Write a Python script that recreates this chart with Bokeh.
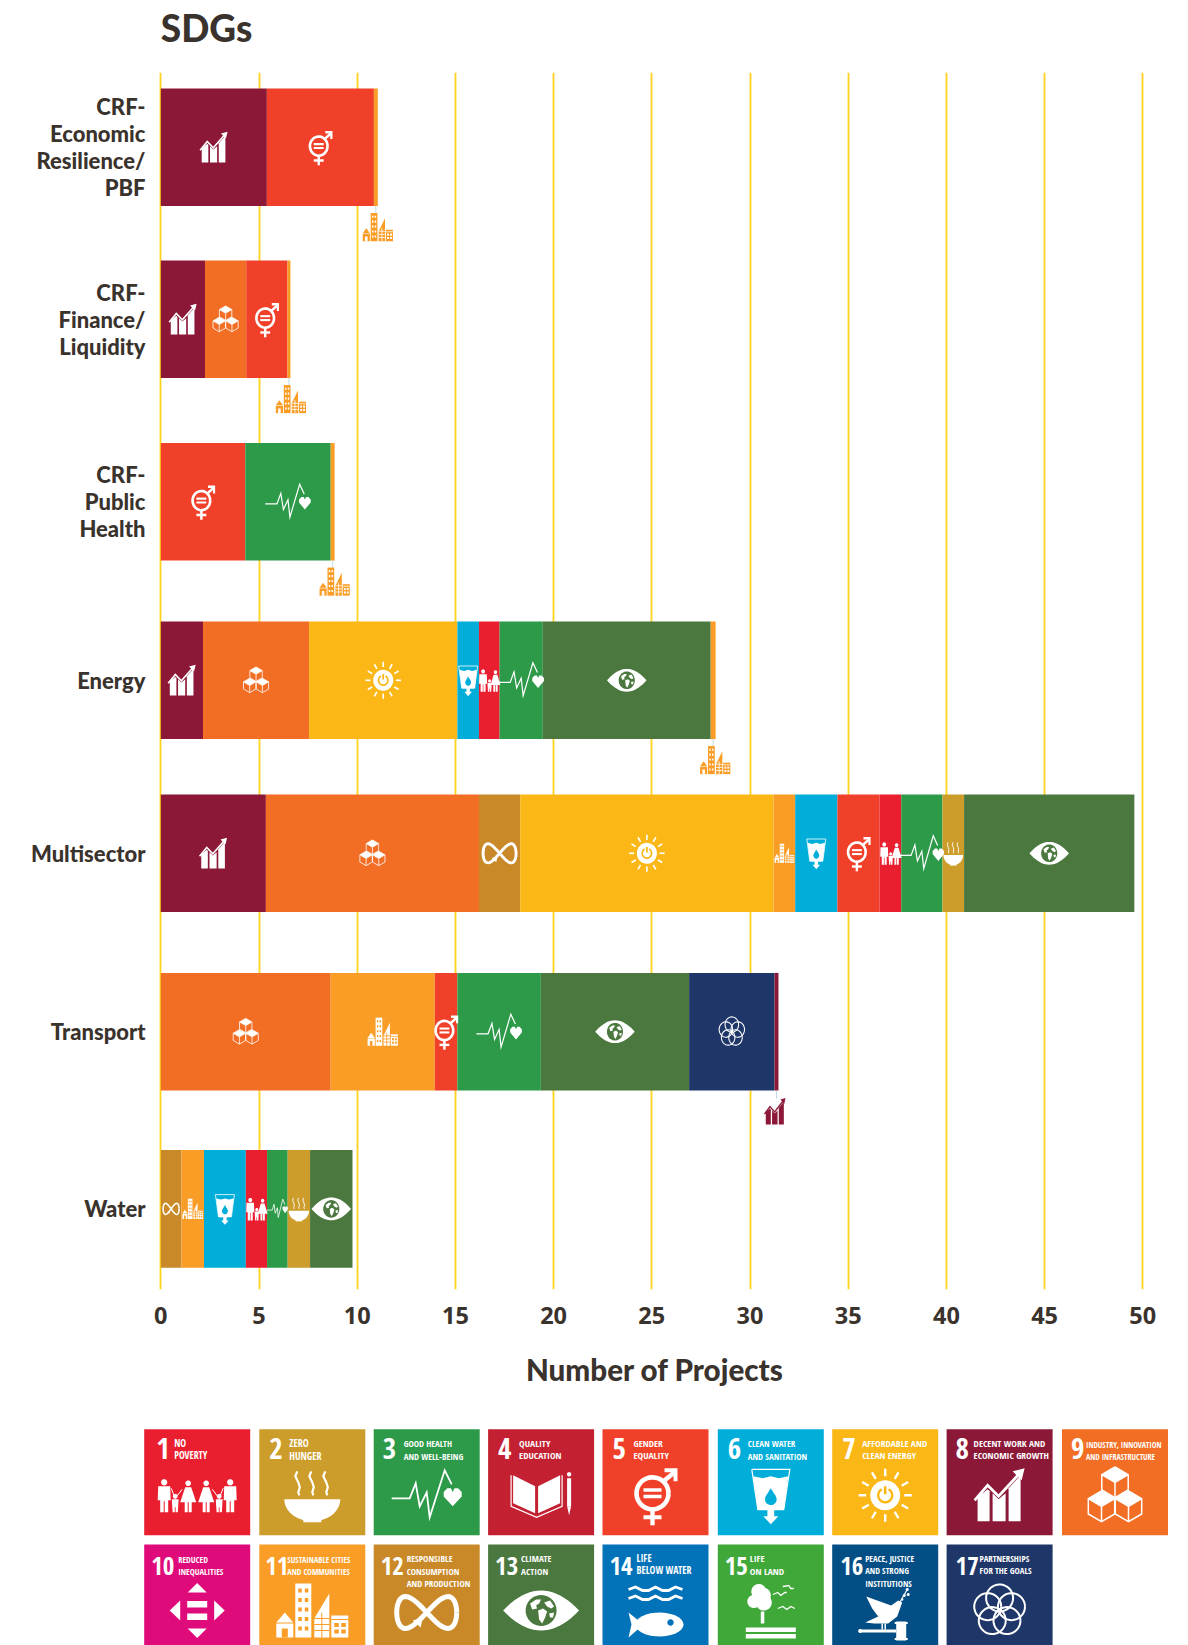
import numpy as np
from bokeh.plotting import figure
from bokeh.embed import file_html
from bokeh.resources import INLINE
from bokeh.models import Range1d, FixedTicker
from bokeh.core.properties import value

# ------------------------------------------------------------ data
sectors = ["CRF-\nEconomic\nResilience/\nPBF", "CRF-\nFinance/\nLiquidity", "CRF-\nPublic\nHealth",
           "Energy", "Multisector", "Transport", "Water"]
s1_goals = [8, 5, 11];                          s1_vals = [5.4, 5.45, 0.2]
s2_goals = [8, 9, 5, 11];                       s2_vals = [2.25, 2.1, 2.1, 0.15]
s3_goals = [5, 3, 11];                          s3_vals = [4.3, 4.35, 0.2]
s4_goals = [8, 9, 7, 6, 1, 3, 13, 11];          s4_vals = [2.15, 5.4, 7.55, 1.1, 1.05, 2.2, 8.55, 0.25]
s5_goals = [8, 9, 12, 7, 11, 6, 5, 1, 3, 2, 13]; s5_vals = [5.35, 10.85, 2.1, 12.9, 1.1, 2.15, 2.15, 1.1, 2.1, 1.1, 8.67]
s6_goals = [9, 11, 5, 3, 13, 17, 8];            s6_vals = [8.65, 5.3, 1.15, 4.25, 7.55, 4.35, 0.2]
s7_goals = [12, 11, 6, 1, 3, 2, 13];            s7_vals = [1.05, 1.15, 2.13, 1.08, 1.05, 1.14, 2.16]
x_ticks = [0, 5, 10, 15, 20, 25, 30, 35, 40, 45, 50]

goal_numbers = list(range(1, 18))
goal_labels = [["NO", "POVERTY"], ["ZERO", "HUNGER"], ["GOOD HEALTH", "AND WELL-BEING"], ["QUALITY", "EDUCATION"],
               ["GENDER", "EQUALITY"], ["CLEAN WATER", "AND SANITATION"], ["AFFORDABLE AND", "CLEAN ENERGY"],
               ["DECENT WORK AND", "ECONOMIC GROWTH"], ["INDUSTRY, INNOVATION", "AND INFRASTRUCTURE"],
               ["REDUCED", "INEQUALITIES"], ["SUSTAINABLE CITIES", "AND COMMUNITIES"],
               ["RESPONSIBLE", "CONSUMPTION", "AND PRODUCTION"], ["CLIMATE", "ACTION"], ["LIFE", "BELOW WATER"],
               ["LIFE", "ON LAND"], ["PEACE, JUSTICE", "AND STRONG", "INSTITUTIONS"], ["PARTNERSHIPS", "FOR THE GOALS"]]
goal_colors = {1: "#E91F30", 2: "#CC9D2B", 3: "#2D9A49", 4: "#C32032", 5: "#F0402A", 6: "#01AED9", 7: "#FBB716",
               8: "#8C1837", 9: "#F36E25", 10: "#DF0B7A", 11: "#FA9D26", 12: "#C98928", 13: "#4B783E",
               14: "#0273B8", 15: "#3FA838", 16: "#024E85", 17: "#1F3768"}

# ------------------------------------------------------------ layout (in page pixels)
INK = "#3A322C"
PX = 19.64           # pixels per project
X0 = 160.3
row_mid = [146.8, 318.8, 501.3, 679.8, 852.8, 1031.2, 1208.4]
BAR_H = 117.6
tile_x = [143.7, 258.8, 373.2, 487.6, 602.0, 717.3, 831.7, 946.1, 1061.5,
          143.7, 258.8, 373.2, 487.6, 602.0, 717.3, 831.7, 946.1]
tile_y = [1428.8] * 9 + [1544.0] * 8
TILE = 106
num_dx = [12, 10, 9, 10, 10, 10, 10, 9, 9, 7, 6, 7, 7, 7, 7, 8, 9]
lab_dx = [30, 30, 30, 31, 31, 30, 30, 27, 24, 34, 28, 33, 33, 34, 32, 33, 33]
lab_size = [9.8, 10, 8.9, 9.5, 9.5, 8.9, 9.5, 9.5, 8, 8.5, 8.2, 9.0, 9.2, 9.8, 9.6, 8.6, 8.8]
icon_dy = [66, 66, 66, 66, 66, 66, 66, 66, 66, 66, 66, 68, 66, 67, 67, 70, 66]
TILE_FONT = "Open Sans Condensed"
BASE_SHIFT = 0.36    # svg text sits this many em under its alphabetic baseline

# ------------------------------------------------------------ icon templates (pixels around the icon centre, y down)
def circ(cx, cy, r, n=28, a0=0.0, a1=2 * np.pi):
    t = np.linspace(a0, a1, n)
    return list(cx + r * np.cos(t)), list(cy + r * np.sin(t))

def poly(*pts):
    return ("f", [p[0] for p in pts], [p[1] for p in pts])

def bgpoly(*pts):
    return ("b", [p[0] for p in pts], [p[1] for p in pts])

def rect(x0, y0, x1, y1, kind="f"):
    return (kind, [x0, x1, x1, x0], [y0, y0, y1, y1])

def disc(cx, cy, r, kind="f"):
    a, b = circ(cx, cy, r)
    return (kind, a, b)

def stroke(pts, w, kind="l"):
    return (kind, [p[0] for p in pts], [p[1] for p in pts], w)

def ring(cx, cy, r, w):
    a, b = circ(cx, cy, r, 40)
    return ("l", a, b, w)

def man(x):
    return [disc(x, -13, 3.1), poly((x - 6, -9), (x + 6, -9), (x + 6.5, 5), (x + 4, 5), (x + 4, 17), (x + .5, 17), (x + .5, 6),
                                    (x - .5, 6), (x - .5, 17), (x - 4, 17), (x - 4, 5), (x - 6.5, 5))]

def woman(x):
    return [disc(x, -12, 2.8), poly((x - 3, -8), (x + 3, -8), (x + 8, 7), (x + 3.5, 7), (x + 3.5, 17), (x + .5, 17), (x + .5, 7),
                                    (x - .5, 7), (x - .5, 17), (x - 3.5, 17), (x - 3.5, 7), (x - 8, 7))]

def child(x):
    return [disc(x, 1, 2.4), poly((x - 3.4, 4), (x + 3.4, 4), (x + 3, 11), (x + 2.6, 17), (x + .4, 17), (x + .4, 12),
                                  (x - .4, 12), (x - .4, 17), (x - 2.6, 17), (x - 3, 11))]

def icon_family():
    out = []
    for part in (man(-33), child(-22), woman(-9), woman(9), child(22), man(33)):
        out += part
    out += [stroke([(-26, -7), (-22, 3)], 1), stroke([(-22, 3), (-15, -6)], 1),
            stroke([(15, -6), (22, 3)], 1), stroke([(22, 3), (26, -7)], 1)]
    return out

def icon_family2():
    out = []
    for part in (man(-10), child(0.5), woman(10)):
        out += part
    return out

def icon_bowl():
    t = np.linspace(0, np.pi, 24)
    ax = list(28 * np.cos(t)); ay = list(4 + 22 * np.sin(t))
    out = [("f", ax, ay), rect(-9, 22, 9, 27)]
    for dx in (-14, 0, 14):
        out.append(stroke([(dx - 1, -24), (dx - 3, -19), (dx, -13), (dx + 1.5, -8), (dx, -3), (dx + 1, 0)], 2.2))
    return out

def heart(cx, cy, r):
    return poly((cx, cy + r), (cx - r, cy - .1 * r), (cx - r, cy - .6 * r), (cx - .6 * r, cy - r), (cx - .2 * r, cy - r), (cx, cy - .6 * r),
                (cx + .2 * r, cy - r), (cx + .6 * r, cy - r), (cx + r, cy - .6 * r), (cx + r, cy - .1 * r))

def icon_pulse():
    return [stroke([(-35, 3), (-17, 3), (-11, -12), (-7, 11), (0, -3), (3, 22), (18, -25), (25, -11)], 1.8), heart(26, 2, 9)]

def icon_book():
    return [poly((-28, -20), (-6, -9), (-6, 18), (-28, 8)), poly((-3, -9), (19, -20), (19, 8), (-3, 18)),
            stroke([(-30, -20), (-30, 11), (-4.5, 22), (21, 11), (21, -20)], 1.2),
            rect(26, -17, 30, 11), poly((26, 11), (30, 11), (28, 20)), disc(28, -21, 2.2)]

def icon_gender():
    rx, ry = -3, -2
    return [ring(rx, ry, 16, 4.6), rect(rx - 9, ry - 5, rx + 9, ry - 1.5), rect(rx - 9, ry + 1.5, rx + 9, ry + 5),
            rect(rx - 2.2, ry + 17, rx + 2.2, ry + 32), rect(rx - 9, ry + 22, rx + 9, ry + 26),
            stroke([(rx + 11, ry - 12), (19, -23)], 4.4), poly((9, -27), (22, -27), (22, -14), (18, -14), (18, -23), (9, -23))]

def icon_cup():
    return [stroke([(-19, -26), (19, -26), (13, 14), (-13, 14), (-19, -26)], 1.2),
            poly((-17.5, -19), (-8, -17), (0, -19), (8, -17), (17.5, -19), (13, 14), (-13, 14)),
            rect(-13, 13, 13, 15), disc(0, 4, 5.8, "b"), bgpoly((-5, 1), (5, 1), (0, -7)),
            rect(-3.4, 14, 3.4, 22), poly((-7.5, 21), (7.5, 21), (0, 29))]

def icon_sun():
    out = [disc(0, 0, 15)]
    for k in range(12):
        a = k * np.pi / 6
        out.append(stroke([(19 * np.cos(a), 19 * np.sin(a)), (26.5 * np.cos(a), 26.5 * np.sin(a))], 2.4))
    a, b = circ(0, 0, 7, 24, -np.pi / 2 + .5, 1.5 * np.pi - .5)
    out.append(("m", a, b, 2.4))
    out.append(stroke([(0, -9), (0, -1)], 2.6, "m"))
    return out

def icon_growth():
    return [poly((-22, 2), (-12, -6), (-10, -4), (-10, 26), (-22, 26)),
            poly((-7, -2), (-1, 4), (6, -2), (6, 26), (-7, 26)),
            poly((9, -7), (21, -20), (21, 26), (9, 26)),
            stroke([(-25, 5), (-12, -10), (-1, 1), (21, -23)], 2.8),
            poly((25, -27), (13, -24), (22, -15))]

def cube(cx, cy, s=13.2):
    h = s * 0.58
    top = poly((cx, cy - 2 * h), (cx + s, cy - h), (cx, cy), (cx - s, cy - h))
    outline = stroke([(cx, cy - 2 * h), (cx + s, cy - h), (cx + s, cy + h), (cx, cy + 2 * h), (cx - s, cy + h), (cx - s, cy - h), (cx, cy - 2 * h)], 1.5)
    return [top, outline, stroke([(cx - s, cy - h), (cx, cy), (cx + s, cy - h)], 1.5), stroke([(cx, cy), (cx, cy + 2 * h)], 1.5)]

def icon_cubes():
    return cube(0, -13) + cube(-13.5, 11) + cube(13.5, 11)

def tri(*p):
    return poly(*p)

def icon_arrows():
    return [tri((-9.5, -18), (9.5, -18), (0, -27.5)), tri((-9.5, 18), (9.5, 18), (0, 27.5)),
            tri((-17, -10), (-17, 10), (-27.5, 0)), tri((17, -10), (17, 10), (27.5, 0)),
            rect(-10, -9.5, 10, -3), rect(-10, 3, 10, 9.5)]

def icon_city():
    out = [poly((-36, 12), (-27.5, 2), (-19, 12)), rect(-36, 13, -19, 27), rect(-30.5, 18, -24.5, 27, "b"), rect(-17, -27, -1, 27)]
    for yy in (-22, -12.5, -3, 6.5, 16):
        out += [rect(-14, yy, -10.5, yy + 4, "b"), rect(-7.5, yy, -4, yy + 4, "b")]
    out.append(poly((2, 8), (17, -17), (17, 27), (2, 27)))
    for yy in (8, 14, 20):
        out.append(stroke([(2, yy), (17, yy)], 1, "m"))
    out.append(stroke([(9.5, 2), (9.5, 27)], 1, "m"))
    out.append(rect(19, 5, 36, 27))
    out.append(stroke([(19, 9), (36, 9)], 1, "m"))
    for yy in (12.5, 19):
        out += [rect(22, yy, 26.5, yy + 4, "b"), rect(29, yy, 33.5, yy + 4, "b")]
    return out

def icon_inf():
    t = np.linspace(0, 2 * np.pi, 60)
    return [("l", list(30 * np.cos(t)), list(16 * np.sin(2 * t)), 5),
            poly((-14, 8), (-4, 5), (-6, 15))]

def icon_eye():
    t = np.linspace(-1, 1, 21)
    ex = list(38 * t) + list(38 * t[::-1])
    ey = list(-20 * (1 - t ** 2)) + list(20 * (1 - t[::-1] ** 2))
    return [("f", ex, ey), disc(0, 0, 15.5, "b"),
            poly((-11, -7), (-5, -11), (0, -11), (-2, -7), (-5, -5), (-4, -2), (-9, -1)),
            poly((-3, 0), (2, -2), (6, 1), (4, 7), (1, 13), (-2, 9)),
            poly((3, -8), (9, -10), (13, -4), (10, -2), (6, -4)),
            poly((8, 3), (13, 2), (12, 7), (9, 7))]

def wave(y):
    return stroke([(-27, y), (-20, y - 2.5), (-13, y + 1), (-7, y + 1), (0, y - 2.5), (7, y + 1), (13, y + 1), (20, y - 2.5), (27, y)], 2.8)

def icon_fish():
    t = np.linspace(0, 2 * np.pi, 30)
    return [wave(-22), wave(-13),
            ("f", list(4 + 24 * np.cos(t)), list(13 + 12 * np.sin(t))),
            poly((-27, 1), (-12, 13), (-27, 26), (-24, 13)),
            disc(15, 11, 3.2, "b")]

def icon_tree():
    return [disc(-12, -20, 7.5), disc(-17, -10, 6.5), disc(-7, -9, 8), disc(-8, -16, 8), rect(-10, 0, -6.5, 12),
            rect(-25, 16, 25, 20.5), rect(-25, 22.5, 25, 27),
            stroke([(2, -17), (7, -19), (10, -16), (14, -19), (16, -19)], 1.3),
            stroke([(12, -25), (18, -26), (20, -23), (23, -23)], 1.3),
            stroke([(7, -3), (12, -5), (16, -2), (20, -5), (24, -3)], 1.3)]

def icon_dove():
    return [poly((-19, -18), (-8, -14), (6, -9), (13, -14), (17, -12), (12, 2), (3, 9), (-11, 9), (-20, 8), (-7, 2), (-13, -6)),
            stroke([(14, -11), (22, -25)], 1.2), disc(19, -19, 1.5), disc(23, -20, 1.5), disc(17, -15, 1.2), disc(22, -25, 1.5),
            stroke([(-3, 9), (-3, 15)], 1.5), stroke([(0, 9), (0, 15)], 1.5),
            rect(-25, 15, 11, 18), disc(-25, 16.5, 2), rect(11, 7, 21, 26), rect(9.5, 7.5, 22.5, 9.5), rect(9.5, 23.5, 22.5, 25.5)]

def icon_rings():
    out = []
    for k in range(5):
        a = -np.pi / 2 + k * 2 * np.pi / 5
        out.append(ring(12.5 * np.cos(a), 12.5 * np.sin(a), 13.5, 2))
    return out

ICONS = {1: icon_family(), 2: icon_bowl(), 3: icon_pulse(), 4: icon_book(), 5: icon_gender(), 6: icon_cup(), 7: icon_sun(),
         8: icon_growth(), 9: icon_cubes(), 10: icon_arrows(), 11: icon_city(), 12: icon_inf(), 13: icon_eye(), 14: icon_fish(),
         15: icon_tree(), 16: icon_dove(), 17: icon_rings()}
BAR_ICONS = dict(ICONS); BAR_ICONS[1] = icon_family2()
ICON_W = {1: 30, 2: 56, 3: 62, 6: 38, 11: 72, 12: 70, 13: 76}
BAR_S = {1: (.62, .68), 2: (.42, .46), 3: (.65, .7), 5: (.55, .6), 6: (.5, .55), 7: (.67, .7), 8: (.55, .58), 9: (.47, .47),
         11: (.42, .52), 12: (.55, .6), 13: (.52, .57), 17: (.5, .57)}


def draw_icon(p, tmpl, cx, cy, fg, bg, sx=1.0, sy=1.0, unit=1.0):
    # sx, sy scale the template in pixels; unit = pixels per x data unit
    lw = (sx + sy) / 2
    for it in tmpl:
        kind = it[0]
        xs = [cx + v * sx / unit for v in it[1]]
        ys = [cy + v * sy for v in it[2]]
        if kind in "fb":
            p.patch(xs, ys, fill_color=fg if kind == "f" else bg, line_color=None)
        else:
            p.line(xs, ys, line_color=fg if kind == "l" else bg, line_width=max(it[3] * lw, 0.8),
                   line_join="miter", line_cap="butt")


# ------------------------------------------------------------ heading
head = figure(width=1188, height=72, output_backend="svg", toolbar_location=None,
              x_range=Range1d(0, 1188), y_range=Range1d(72, 0), min_border=0)
head.axis.visible = False
head.grid.visible = False
head.outline_line_color = None
head.text([X0], [40.7 - BASE_SHIFT * 37], text=["SDGs"], text_font=value("Lato Black"), text_font_style="bold",
          text_font_size="37px", text_color=INK, text_baseline="alphabetic", text_align="left")

# ------------------------------------------------------------ main figure
main = figure(width=1188, height=1343, output_backend="svg", toolbar_location=None,
              x_range=Range1d((158 - X0) / PX, (1151 - X0) / PX), y_range=Range1d(1289, 72),
              min_border_left=158, min_border_right=37, min_border_top=0, min_border_bottom=126)
main.outline_line_color = None
main.background_fill_color = "white"

main.ygrid.visible = False
main.xgrid.ticker = FixedTicker(ticks=x_ticks)
main.xgrid.grid_line_color = "#FFD21E"
main.xgrid.grid_line_width = 1.8

xa = main.xaxis[0]
xa.ticker = FixedTicker(ticks=x_ticks)
xa.axis_line_color = None
xa.major_tick_line_color = None
xa.minor_tick_line_color = None
xa.major_label_standoff = 11
xa.major_label_text_font = "Open Sans"
xa.major_label_text_font_style = "bold"
xa.major_label_text_font_size = "23.5px"
xa.major_label_text_color = INK
xa.axis_label = "Number of Projects"
xa.axis_label_text_font = "Lato Black"
xa.axis_label_text_font_style = "bold"
xa.axis_label_text_font_size = "29.6px"
xa.axis_label_text_color = INK
xa.axis_label_standoff = 25

ya = main.yaxis[0]
ya.ticker = FixedTicker(ticks=row_mid)
ya.major_label_overrides = {m: s for m, s in zip(row_mid, sectors)}
ya.axis_line_color = None
ya.major_tick_line_color = None
ya.minor_tick_line_color = None
ya.major_label_standoff = 7
ya.major_label_text_font = "Lato Black"
ya.major_label_text_font_style = "bold"
ya.major_label_text_font_size = "22px"
ya.major_label_text_color = INK
ya.major_label_text_line_height = 1.0

rows = [(s1_goals, s1_vals), (s2_goals, s2_vals), (s3_goals, s3_vals), (s4_goals, s4_vals),
        (s5_goals, s5_vals), (s6_goals, s6_vals), (s7_goals, s7_vals)]

for mid, (goals, vals) in zip(row_mid, rows):
    left = 0.0
    lefts, rights, cols = [], [], []
    for g, v in zip(goals, vals):
        lefts.append(left); left += v; rights.append(left); cols.append(goal_colors[g])
    main.hbar(y=[mid] * len(vals), height=BAR_H, left=lefts, right=rights, fill_color=cols, line_color=None)
    for g, l, r in zip(goals, lefts, rights):
        seg_px = (r - l) * PX
        cx = (l + r) / 2
        if seg_px < 8:  # too thin for its icon: called out under the bar
            main.segment([cx], [mid + BAR_H / 2], [cx], [mid + BAR_H / 2 + 8], line_color="#BFDCEB", line_width=1)
            sx, sy = (.42, .5) if g == 8 else BAR_S.get(g, (.55, .55))
            draw_icon(main, ICONS[g], cx - 1.5 / PX if g == 8 else cx + 2 / PX, mid + BAR_H / 2 + 21, goal_colors[g], "white", sx, sy, PX)
            continue
        sx, sy = BAR_S.get(g, (.58, .58))
        w = ICON_W.get(g)
        if w and w * sx > seg_px - 2:
            sx = (seg_px - 2) / w
            sy = min(sy, sx * 1.3)
        draw_icon(main, BAR_ICONS[g], cx, mid, "white", goal_colors[g], sx, sy, PX)

# ------------------------------------------------------------ legend tiles
leg = figure(width=1188, height=230, output_backend="svg", toolbar_location=None,
             x_range=Range1d(0, 1188), y_range=Range1d(1645, 1415), min_border=0)
leg.axis.visible = False
leg.grid.visible = False
leg.outline_line_color = None

for i, g in enumerate(goal_numbers):
    x, y = tile_x[i], tile_y[i]
    c = goal_colors[g]
    leg.quad(left=[x], right=[x + TILE], top=[y], bottom=[y + TILE], fill_color=c, line_color=None)
    ns = 29 if g < 10 else 25
    leg.text([x + num_dx[i]], [y + 30 - BASE_SHIFT * ns], text=[str(g)], text_color="white", text_font=value(TILE_FONT),
             text_font_style="bold", text_font_size=f"{ns}px", text_baseline="alphabetic", text_align="left")
    for k, line in enumerate(goal_labels[i]):
        leg.text([x + lab_dx[i]], [y + 17.7 + 12.3 * k - BASE_SHIFT * lab_size[i]], text=[line], text_color="white",
                 text_font=value(TILE_FONT), text_font_style="bold",
                 text_font_size=f"{lab_size[i]}px", text_baseline="alphabetic", text_align="left")
    draw_icon(leg, ICONS[g], x + TILE / 2, y + icon_dy[i], "white", c)

open("out.html", "w").write(file_html((head, main, leg), INLINE))
